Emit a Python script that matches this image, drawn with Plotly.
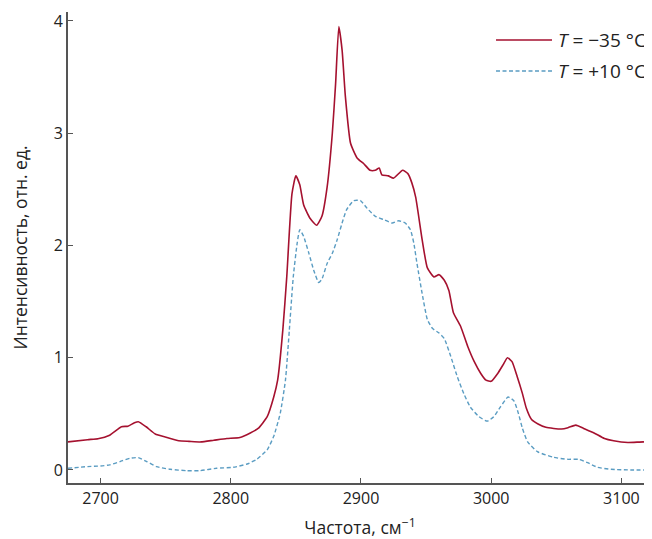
import plotly.graph_objects as go

# Frequency (cm^-1) and intensity (a.u.) for T = -35 °C
red_x = [2675, 2690, 2698, 2707, 2716, 2721, 2726, 2729, 2735, 2742, 2751, 2760, 2768, 2777, 2787, 2797,
         2807, 2815, 2821, 2828, 2833, 2836, 2840, 2843, 2847, 2850, 2853, 2856, 2861, 2866, 2870, 2874,
         2878, 2880.5, 2883, 2885.5, 2888, 2892, 2897, 2902, 2907, 2911, 2914, 2916, 2921, 2925, 2932,
         2936, 2939, 2942, 2947, 2951, 2956, 2960, 2964, 2967.5, 2971, 2976.5, 2982, 2987, 2992, 2996,
         3000, 3005, 3009, 3012.5, 3016, 3020, 3024, 3027, 3031, 3036, 3042, 3048, 3054, 3059, 3065,
         3071, 3079, 3087, 3094, 3105, 3117, 3124]
red_y = [0.25, 0.27, 0.278, 0.31, 0.385, 0.39, 0.42, 0.43, 0.385, 0.32, 0.29, 0.26, 0.255, 0.25, 0.265, 0.28,
         0.29, 0.33, 0.37, 0.475, 0.65, 0.8, 1.25, 1.72, 2.46, 2.62, 2.54, 2.36, 2.24, 2.18, 2.26, 2.52,
         3.0, 3.44, 3.95, 3.74, 3.33, 2.91, 2.78, 2.73, 2.67, 2.67, 2.69, 2.63, 2.62, 2.60, 2.67,
         2.64, 2.56, 2.43, 2.05, 1.80, 1.72, 1.74, 1.69, 1.60, 1.40, 1.28, 1.10, 0.965, 0.86, 0.80,
         0.79, 0.86, 0.935, 1.00, 0.965, 0.83, 0.68, 0.55, 0.45, 0.41, 0.38, 0.37, 0.365, 0.377, 0.40,
         0.37, 0.33, 0.28, 0.26, 0.245, 0.25, 0.245]

# Frequency (cm^-1) and intensity (a.u.) for T = +10 °C
blue_x = [2675, 2690, 2700, 2707, 2715, 2722.7, 2729, 2735.5, 2743, 2753.5, 2766, 2776.5, 2789, 2802,
          2812.5, 2820, 2828, 2833, 2838, 2842, 2845, 2848, 2851, 2853, 2856, 2860, 2863.7, 2867.5, 2870,
          2874, 2878, 2881.7, 2885.5, 2889, 2894.5, 2899.6, 2904.8, 2911, 2917.5, 2924, 2929, 2934, 2938,
          2940.6, 2943, 2947, 2951, 2955, 2960, 2964, 2969, 2974, 2979, 2984, 2990.6, 2997, 3002, 3007,
          3013, 3017.5, 3021, 3024, 3028, 3035.5, 3048, 3058.6, 3067.5, 3074, 3081.7, 3092, 3107, 3124]
blue_y = [0.015, 0.03, 0.036, 0.045, 0.075, 0.105, 0.11, 0.075, 0.03, 0.006, -0.006, -0.006, 0.015, 0.024,
          0.053, 0.095, 0.18, 0.30, 0.505, 0.80, 1.25, 1.72, 2.02, 2.14, 2.08, 1.93, 1.78, 1.67, 1.70,
          1.84, 1.93, 2.05, 2.20, 2.32, 2.40, 2.40, 2.33, 2.26, 2.23, 2.20, 2.22, 2.20, 2.14,
          2.02, 1.84, 1.57, 1.34, 1.26, 1.22, 1.17, 1.01, 0.83, 0.68, 0.56, 0.475, 0.435, 0.475, 0.56,
          0.65, 0.615, 0.50, 0.37, 0.25, 0.163, 0.113, 0.095, 0.095, 0.065, 0.024, 0.006, 0.0, 0.0]

series_names = ["<i>T</i> = −35 °C", "<i>T</i> = +10 °C"]
x_ticks = [2700, 2800, 2900, 3000, 3100]
y_ticks = [0, 1, 2, 3, 4]

RED = "#A5112F"
BLUE = "#5A9CC2"
AXIS = "#555555"
FONT = "Open Sans"
DASH = "4px,2.5px"

fig = go.Figure()
fig.add_trace(go.Scatter(x=red_x, y=red_y, mode="lines", name=series_names[0], showlegend=False,
                         line=dict(color=RED, width=1.6, shape="spline", smoothing=0.5)))
fig.add_trace(go.Scatter(x=blue_x, y=blue_y, mode="lines", name=series_names[1], showlegend=False,
                         line=dict(color=BLUE, width=1.4, dash=DASH, shape="spline", smoothing=0.5)))

# Custom legend (longer line samples, as in the reference)
legend_rows = [(0.9406, RED, "solid", 1.6), (0.8747, BLUE, DASH, 1.4)]
for (ly, col, dash, w), name in zip(legend_rows, series_names):
    fig.add_shape(type="line", xref="paper", yref="paper", x0=0.7329, x1=0.8288, y0=ly, y1=ly,
                  line=dict(color=col, width=w, dash=dash))
    fig.add_annotation(xref="paper", yref="paper", x=0.836, y=ly, text=name, showarrow=False,
                       xanchor="left", yanchor="middle", font=dict(size=19, color="#222222"))

fig.update_layout(
    width=644, height=531,
    margin=dict(l=60, r=0, t=4, b=56),
    plot_bgcolor="white", paper_bgcolor="white",
    font=dict(family=FONT, size=16, color="#222222"),
    showlegend=False,
    xaxis=dict(range=[2675, 3123.5], tickvals=x_ticks, ticks="inside", ticklen=5, tickcolor=AXIS,
               showline=True, linecolor=AXIS, linewidth=2, showgrid=False, zeroline=False,
               title=dict(text="Частота, см<sup>−1</sup>", standoff=15, font=dict(size=17.5))),
    yaxis=dict(range=[-0.116, 4.08], tickvals=y_ticks, ticks="inside", ticklen=5, tickcolor=AXIS,
               showline=True, linecolor=AXIS, linewidth=2, showgrid=False, zeroline=False,
               title=dict(text="Интенсивность, отн. ед.", standoff=22, font=dict(size=17.5))),
)

fig.write_html("out.html")
